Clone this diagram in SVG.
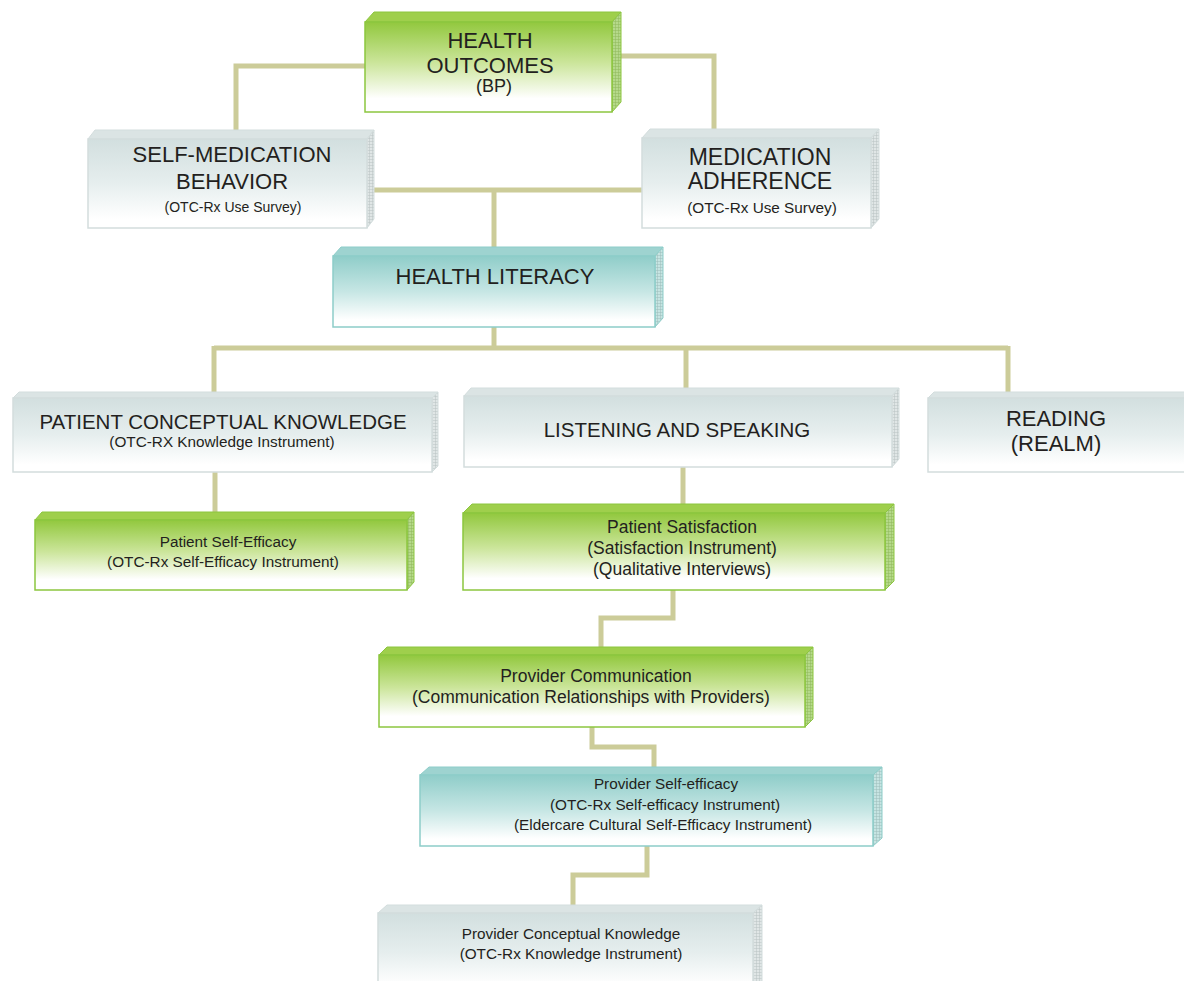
<svg xmlns="http://www.w3.org/2000/svg" width="1184" height="981" viewBox="0 0 1184 981">
<defs>
<linearGradient id="gGreen" x1="0" y1="0" x2="0" y2="1">
<stop offset="0" stop-color="#92c83e"/><stop offset="0.45" stop-color="#cbe59a"/><stop offset="0.85" stop-color="#ffffff"/>
</linearGradient>
<linearGradient id="gGray" x1="0" y1="0" x2="0" y2="1">
<stop offset="0" stop-color="#d2dfdf"/><stop offset="0.5" stop-color="#e6eeee"/><stop offset="0.9" stop-color="#ffffff"/>
</linearGradient>
<linearGradient id="gTeal" x1="0" y1="0" x2="0" y2="1">
<stop offset="0" stop-color="#8fcdc9"/><stop offset="0.5" stop-color="#c6e6e4"/><stop offset="0.9" stop-color="#ffffff"/>
</linearGradient>
<pattern id="hGreen" width="3" height="3" patternUnits="userSpaceOnUse">
<rect width="3" height="3" fill="#b5d98a"/><path d="M0 0H3M0 0V3" stroke="#8fb85a" stroke-width="1"/>
</pattern>
<pattern id="hGray" width="3" height="3" patternUnits="userSpaceOnUse">
<rect width="3" height="3" fill="#e0e6e6"/><path d="M0 0H3M0 0V3" stroke="#b8c2c2" stroke-width="1"/>
</pattern>
<pattern id="hTeal" width="3" height="3" patternUnits="userSpaceOnUse">
<rect width="3" height="3" fill="#c6e4e2"/><path d="M0 0H3M0 0V3" stroke="#9cbcba" stroke-width="1"/>
</pattern>
</defs>
<style>
.con{fill:none;stroke:#cccc99;stroke-width:5}
.green .front{fill:url(#gGreen);stroke:#8cc63f;stroke-width:1.5}
.green .top{fill:#9fcf4c;stroke:#8cc63f;stroke-width:1}
.green .side{fill:url(#hGreen);stroke:#8cc63f;stroke-width:1}
.gray .front{fill:url(#gGray);stroke:#d3dddd;stroke-width:1.5}
.gray .top{fill:#dbe4e4;stroke:#d3dddd;stroke-width:1}
.gray .side{fill:url(#hGray);stroke:#d3dddd;stroke-width:1}
.teal .front{fill:url(#gTeal);stroke:#8dcdc9;stroke-width:1.5}
.teal .top{fill:#9ed3d0;stroke:#8dcdc9;stroke-width:1}
.teal .side{fill:url(#hTeal);stroke:#8dcdc9;stroke-width:1}
text{font-family:"Liberation Sans",Arial,sans-serif;fill:#231f20;text-anchor:middle}
.t20{font-size:20.5px}
.t22{font-size:22px}
.t23{font-size:23px}
.t18{font-size:18px}
.t17{font-size:17.5px}
.t15{font-size:15.3px}
.t14{font-size:14px}
</style>
<rect width="1184" height="981" fill="#ffffff"/>
<g id="connectors">
<path class="con" d="M365,66 H236 V131"/>
<path class="con" d="M620,56 H714 V130"/>
<path class="con" d="M373,190 H642"/>
<path class="con" d="M494,190 V249"/>
<path class="con" d="M494,327 V348"/>
<path class="con" d="M214,348 H1008"/>
<path class="con" d="M214,346 V393"/>
<path class="con" d="M686,346 V389"/>
<path class="con" d="M1008,346 V393"/>
<path class="con" d="M215,472 V513"/>
<path class="con" d="M683,467 V506"/>
<path class="con" d="M673,590 V618 H601 V648"/>
<path class="con" d="M592,727 V747 H654 V768"/>
<path class="con" d="M647,846 V875 H573 V906"/>
</g>
<g id="health-outcomes" class="green">
<polygon class="top" points="365,22 374,12 621,12 612,22"/>
<polygon class="side" points="612,22 621,12 621,102 612,112"/>
<rect class="front" x="365" y="22" width="247" height="90"/>
<text class="t22" x="490" y="48">HEALTH</text>
<text class="t22" x="490" y="73">OUTCOMES</text>
<text class="t18" x="494" y="92">(BP)</text>
</g>
<g id="self-medication" class="gray">
<polygon class="top" points="88,139 95,130 374,130 367,139"/>
<polygon class="side" points="367,139 374,130 374,219 367,228"/>
<rect class="front" x="88" y="139" width="279" height="89"/>
<text class="t22" x="232" y="162">SELF-MEDICATION</text>
<text class="t22" x="232" y="189">BEHAVIOR</text>
<text class="t14" x="233" y="212">(OTC-Rx Use Survey)</text>
</g>
<g id="medication-adherence" class="gray">
<polygon class="top" points="642,138 650,129 879,129 871,138"/>
<polygon class="side" points="871,138 879,129 879,219 871,228"/>
<rect class="front" x="642" y="138" width="229" height="90"/>
<text class="t23" x="760" y="165">MEDICATION</text>
<text class="t23" x="760" y="189">ADHERENCE</text>
<text class="t15" x="762" y="213">(OTC-Rx Use Survey)</text>
</g>
<g id="health-literacy" class="teal">
<polygon class="top" points="333,256 341,247 663,247 655,256"/>
<polygon class="side" points="655,256 663,247 663,318 655,327"/>
<rect class="front" x="333" y="256" width="322" height="71"/>
<text class="t22" x="495" y="284">HEALTH LITERACY</text>
</g>
<g id="patient-conceptual-knowledge" class="gray">
<polygon class="top" points="13,398 19,392 438,392 432,398"/>
<polygon class="side" points="432,398 438,392 438,466 432,472"/>
<rect class="front" x="13" y="398" width="419" height="74"/>
<text class="t20" x="223" y="429">PATIENT CONCEPTUAL KNOWLEDGE</text>
<text class="t15" x="222" y="447">(OTC-RX Knowledge Instrument)</text>
</g>
<g id="listening-speaking" class="gray">
<polygon class="top" points="464,396 471,388 899,388 892,396"/>
<polygon class="side" points="892,396 899,388 899,459 892,467"/>
<rect class="front" x="464" y="396" width="428" height="71"/>
<text class="t20" x="677" y="437">LISTENING AND SPEAKING</text>
</g>
<g id="reading" class="gray">
<polygon class="top" points="928,398 934,392 1200,392 1194,398"/>
<rect class="front" x="928" y="398" width="270" height="74"/>
<text class="t22" x="1056" y="426">READING</text>
<text class="t22" x="1056" y="451">(REALM)</text>
</g>
<g id="patient-self-efficacy" class="green">
<polygon class="top" points="35,520 42,512 414,512 407,520"/>
<polygon class="side" points="407,520 414,512 414,582 407,590"/>
<rect class="front" x="35" y="520" width="372" height="70"/>
<text class="t15" x="228" y="547">Patient Self-Efficacy</text>
<text class="t15" x="223" y="567">(OTC-Rx Self-Efficacy Instrument)</text>
</g>
<g id="patient-satisfaction" class="green">
<polygon class="top" points="463,513 472,504 894,504 885,513"/>
<polygon class="side" points="885,513 894,504 894,581 885,590"/>
<rect class="front" x="463" y="513" width="422" height="77"/>
<text class="t17" x="682" y="533">Patient Satisfaction</text>
<text class="t17" x="682" y="554">(Satisfaction Instrument)</text>
<text class="t17" x="682" y="575">(Qualitative Interviews)</text>
</g>
<g id="provider-communication" class="green">
<polygon class="top" points="379,655 387,647 813,647 805,655"/>
<polygon class="side" points="805,655 813,647 813,719 805,727"/>
<rect class="front" x="379" y="655" width="426" height="72"/>
<text class="t17" x="596" y="682">Provider Communication</text>
<text class="t17" x="591" y="703">(Communication Relationships with Providers)</text>
</g>
<g id="provider-self-efficacy" class="teal">
<polygon class="top" points="420,775 429,767 882,767 873,775"/>
<polygon class="side" points="873,775 882,767 882,838 873,846"/>
<rect class="front" x="420" y="775" width="453" height="71"/>
<text class="t15" x="666" y="789">Provider Self-efficacy</text>
<text class="t15" x="665" y="810">(OTC-Rx Self-efficacy Instrument)</text>
<text class="t15" x="663" y="830">(Eldercare Cultural Self-Efficacy Instrument)</text>
</g>
<g id="provider-conceptual-knowledge" class="gray">
<polygon class="top" points="378,913 387,905 762,905 753,913"/>
<polygon class="side" points="753,913 762,905 762,990 753,995"/>
<rect class="front" x="378" y="913" width="375" height="80"/>
<text class="t15" x="571" y="939">Provider Conceptual Knowledge</text>
<text class="t15" x="571" y="959">(OTC-Rx Knowledge Instrument)</text>
</g>
</svg>
